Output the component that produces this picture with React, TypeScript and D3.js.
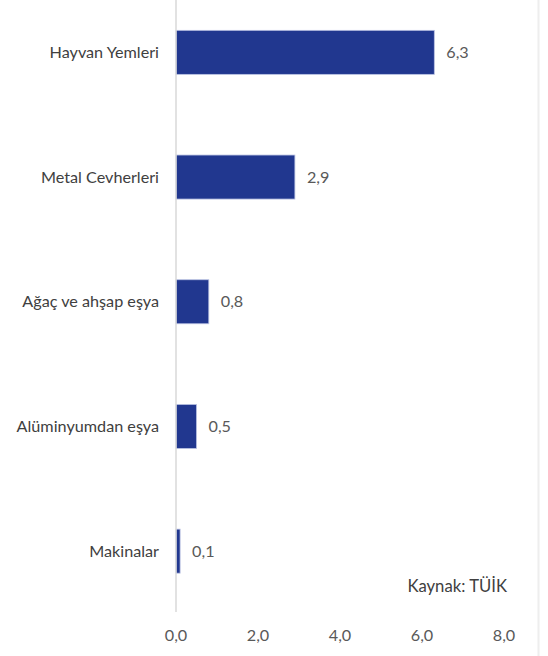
import React from "react";
import * as d3 from "d3";

const categories = ["Hayvan Yemleri", "Metal Cevherleri", "Ağaç ve ahşap eşya", "Alüminyumdan eşya", "Makinalar"];
const values = [6.3, 2.9, 0.8, 0.5, 0.1];
const ticks = [0, 2, 4, 6, 8];
const source = "Kaynak: TÜİK";

const W = 548;
const H = 656;
const FONT = "Lato, 'Open Sans', sans-serif";
const FS = 16.2;
const fmt = (v: number) => v.toFixed(1).replace(".", ",");

export default function App() {
  const x = d3.scaleLinear().domain([0, 8]).range([176, 504]);
  const y = d3
    .scaleBand<string>()
    .domain(categories)
    .range([-10, 613.5])
    .paddingInner(0.647)
    .paddingOuter(0.3235);
  const bw = y.bandwidth();

  return (
    <svg
      width={W}
      height={H}
      style={{ position: "absolute", left: 0, top: 0, background: "#fff" }}
      fontFamily={FONT}
    >
      <rect x={0} y={0} width={W} height={H} fill="#fff" />
      <line x1={538.5} x2={538.5} y1={0} y2={H} stroke="#eeeeee" strokeWidth={2} />
      {categories.map((c, i) => {
        const yc = (y(c) as number) + bw / 2;
        return (
          <g key={c}>
            <rect
              x={x(0)}
              y={y(c)}
              width={x(values[i]) - x(0)}
              height={bw}
              fill="#21378f"
              stroke="#b9c1e2"
              strokeWidth={0.8}
            />
            <text x={159} y={yc} dy="0.35em" textAnchor="end" fontSize={FS} fill="#404040">
              {c}
            </text>
            <text x={x(values[i]) + 12} y={yc} dy="0.35em" fontSize={FS} fill="#595959">
              {fmt(values[i])}
            </text>
          </g>
        );
      })}
      <line x1={x(0)} x2={x(0)} y1={0} y2={612} stroke="#d9d9d9" strokeWidth={1.5} />
      {ticks.map((t) => (
        <text key={t} x={x(t)} y={635} dy="0.35em" textAnchor="middle" fontSize={FS} fill="#595959">
          {fmt(t)}
        </text>
      ))}
      <text x={507} y={586} dy="0.35em" textAnchor="end" fontSize={FS + 0.5} fill="#404040">
        {source}
      </text>
    </svg>
  );
}
